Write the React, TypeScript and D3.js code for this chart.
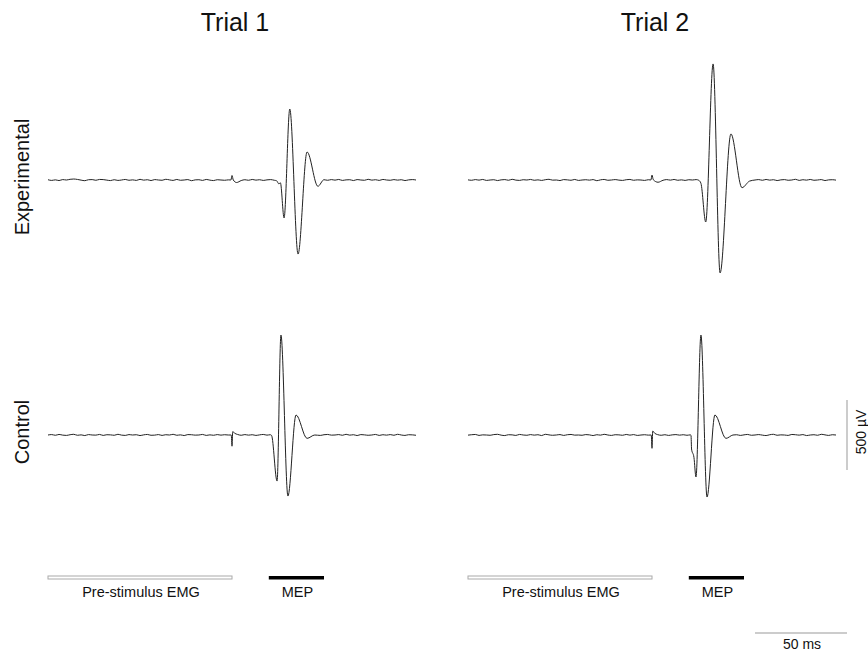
import React from "react";
import * as d3 from "d3";

// ---- Data ----
const trials = ["Trial 1", "Trial 2"];
const conditions = ["Experimental", "Control"];
const timeDomain: [number, number] = [-100, 100]; // ms, stimulus at 0
const preStimWindow: [number, number] = [-100, 0];
const mepWindow: [number, number] = [20, 50];
const scaleBarUV = 500;
const scaleBarMs = 50;
const bottomLabels = ["Pre-stimulus EMG", "MEP"];

// baseline noise sampled every 2 ms (µV)
const noiseStep = 2;
const exp1Pre = [2,-3,1,-4,3,0,5,7,4,-1,-5,2,3,-2,4,3,-1,-4,2,-3,0,4,-2,1,-3,5,-1,2,-4,3,0,-2,5,1,-3,4,-2,0,3,-5,1,2,-3,4,-1,-4,2,0,-2,1];
const exp2Pre = [1,-2,3,-1,4,-3,0,2,-4,1,3,-2,5,-1,-3,2,0,4,-2,1,-3,2,5,-1,0,-4,3,1,-2,4,-3,0,2,-1,3,-5,1,4,-2,0,3,-1,-3,2,4,-2,1,0,-3,2];
const ctrl1Pre = [0,3,-2,4,-1,-3,2,5,-2,1,-4,3,0,-1,4,-3,2,1,-2,5,-1,-3,3,0,2,-4,1,4,-2,-1,3,-3,2,0,5,-2,1,-4,3,2,-1,0,4,-3,1,-2,3,-1,2,0];
const ctrl2Pre = [-1,2,4,-3,1,0,-2,3,5,-1,-4,2,1,-3,4,0,-2,3,-1,2,-4,5,1,-2,0,3,-3,2,4,-1,0,-2,3,1,-4,2,-1,5,0,-3,2,1,-2,4,-1,3,-3,0,2,-1];

const exp1PostStart = 52;
const exp1Post = [-2,3,-1,4,-3,1,2,-4,3,0,-2,5,-1,2,-3,4,0,-2,3,-1,2,-4,1,3,0];
const exp2PostStart = 58;
const exp2Post = [3,-2,4,-1,2,-4,1,3,-2,0,5,-3,2,-1,4,-2,0,3,-4,1,2,-1];
const ctrl1PostStart = 48;
const ctrl1Post = [-3,2,4,-1,0,3,-2,5,-1,2,-4,3,1,-2,0,4,-3,2,-1,3,-2,5,0,-3,2,1,-2];
const ctrl2PostStart = 46;
const ctrl2Post = [2,-3,1,4,-2,0,3,-1,-4,2,5,-2,1,0,-3,4,2,-1,3,-4,0,2,-2,5,1,-3,2,0];

// stimulus artifact + MEP key points [ms, µV]
const exp1Mep: [number, number][] = [
  [-0.6, 0], [0, 32], [0.7, 0], [2.5, -18], [5, -4], [7, 2], [9, -2], [11, 4], [13, -1], [15, 2],
  [17, -3], [19, 1], [21, 3], [23, -2], [24.2, -5], [25.5, -28], [26.3, -20], [28.3, -271],
  [31.4, 507], [35.9, -529], [40.8, 200], [46.7, -45], [50, 2],
];
const exp2Mep: [number, number][] = [
  [-0.6, 0], [0, 35], [0.7, 2], [3.3, -16], [6, -2], [8, 3], [10, -1], [12, 4], [14, -2], [16, 1],
  [18, -3], [20, 2], [22, 0], [24, 3], [25.4, -2], [26.6, -24], [29.2, -300], [33.2, 829],
  [37, -664], [42.9, 329], [48.9, -55], [53, -8], [56, 0],
];
const ctrl1Mep: [number, number][] = [
  [-0.4, 0], [0, -80], [0.4, 24], [1.5, 12], [3, 4], [5, -2], [7, 3], [9, -1], [11, 2], [13, -3],
  [15, 1], [17, 4], [19, -1], [20.8, 2], [21.5, -3], [24.5, -329], [26.6, 714], [30.4, -436],
  [34.8, 143], [40.8, -24], [45, 0],
];
const ctrl2Mep: [number, number][] = [
  [-0.4, 0], [0, -95], [0.4, 28], [1.5, 12], [3, 3], [5, -2], [7, 2], [9, -3], [11, 1], [13, 3],
  [15, -1], [17, 2], [19, -2], [20.8, 1], [21.2, -2], [21.5, -100], [22.8, -160], [23.9, -300],
  [26.6, 714], [29.9, -443], [34.2, 143], [40.2, -24], [44, 0],
];

type Trace = { pre: number[]; mep: [number, number][]; postStart: number; post: number[] };
const traces: Trace[][] = [
  [
    { pre: exp1Pre, mep: exp1Mep, postStart: exp1PostStart, post: exp1Post },
    { pre: exp2Pre, mep: exp2Mep, postStart: exp2PostStart, post: exp2Post },
  ],
  [
    { pre: ctrl1Pre, mep: ctrl1Mep, postStart: ctrl1PostStart, post: ctrl1Post },
    { pre: ctrl2Pre, mep: ctrl2Mep, postStart: ctrl2PostStart, post: ctrl2Post },
  ],
];

function buildPoints(tr: Trace): [number, number][] {
  const pts: [number, number][] = [];
  tr.pre.forEach((v, i) => pts.push([timeDomain[0] + i * noiseStep, v]));
  tr.mep.forEach((p) => pts.push(p));
  tr.post.forEach((v, i) => pts.push([tr.postStart + i * noiseStep, v]));
  return pts;
}

// ---- Layout ----
const W = 868;
const H = 654;
const colRanges: [number, number][] = [
  [48, 416],
  [468, 836],
];
const rowBaselines = [180, 435];
const halfSpan = 70; // px for 500 µV
const FONT = "'Liberation Sans', Arial, Helvetica, sans-serif";

export default function App() {
  const xScales = colRanges.map((r) => d3.scaleLinear().domain(timeDomain).range(r));
  const yScales = rowBaselines.map((y0) =>
    d3.scaleLinear().domain([-scaleBarUV, scaleBarUV]).range([y0 + halfSpan, y0 - halfSpan])
  );

  const barY = 576;
  const labelY = 597;
  const vBarX = 847;
  const hBarY = 633;
  const hBarLen = xScales[1](scaleBarMs) - xScales[1](0);

  return (
    <div style={{ position: "absolute", left: 0, top: 0 }}>
      <svg width={W} height={H} style={{ display: "block", background: "#fff" }}>
        {trials.map((t, ci) => (
          <text
            key={t}
            x={(colRanges[ci][0] + colRanges[ci][1]) / 2 + 3}
            y={31}
            textAnchor="middle"
            fontFamily={FONT}
            fontSize={25}
            fill="#111"
          >
            {t}
          </text>
        ))}
        {conditions.map((c, ri) => (
          <text
            key={c}
            transform={`translate(29, ${rowBaselines[ri] - 3}) rotate(-90)`}
            textAnchor="middle"
            fontFamily={FONT}
            fontSize={20}
            fill="#111"
          >
            {c}
          </text>
        ))}
        {traces.map((row, ri) =>
          row.map((tr, ci) => {
            const line = d3
              .line<[number, number]>()
              .x((d) => xScales[ci](d[0]))
              .y((d) => yScales[ri](d[1]))
              .curve(d3.curveMonotoneX);
            return (
              <path
                key={`${ri}-${ci}`}
                d={line(buildPoints(tr)) || ""}
                fill="none"
                stroke="#222"
                strokeWidth={1}
                strokeLinejoin="round"
              />
            );
          })
        )}
        {colRanges.map((_, ci) => {
          const xs = xScales[ci];
          return (
            <g key={ci}>
              <rect
                x={xs(preStimWindow[0])}
                y={barY}
                width={xs(preStimWindow[1]) - xs(preStimWindow[0])}
                height={3}
                fill="#fff"
                stroke="#aaa"
                strokeWidth={1}
              />
              <rect
                x={xs(mepWindow[0])}
                y={barY}
                width={xs(mepWindow[1]) - xs(mepWindow[0])}
                height={3.5}
                fill="#000"
              />
              <text
                x={(xs(preStimWindow[0]) + xs(preStimWindow[1])) / 2 + 1}
                y={labelY}
                textAnchor="middle"
                fontFamily={FONT}
                fontSize={14.5}
                fill="#111"
              >
                {bottomLabels[0]}
              </text>
              <text
                x={(xs(mepWindow[0]) + xs(mepWindow[1])) / 2 + 1}
                y={labelY}
                textAnchor="middle"
                fontFamily={FONT}
                fontSize={14.5}
                fill="#111"
              >
                {bottomLabels[1]}
              </text>
            </g>
          );
        })}
        {/* scale bars */}
        <line
          x1={vBarX}
          x2={vBarX}
          y1={yScales[1](-scaleBarUV / 2)}
          y2={yScales[1](scaleBarUV / 2)}
          stroke="#999"
          strokeWidth={1}
        />
        <text
          transform={`translate(866, ${rowBaselines[1] - 3}) rotate(-90)`}
          textAnchor="middle"
          fontFamily={FONT}
          fontSize={14}
          fill="#111"
        >
          {`${scaleBarUV} µV`}
        </text>
        <line x1={vBarX - hBarLen} x2={vBarX} y1={hBarY} y2={hBarY} stroke="#999" strokeWidth={1} />
        <text
          x={vBarX - hBarLen / 2 + 1}
          y={649}
          textAnchor="middle"
          fontFamily={FONT}
          fontSize={14}
          fill="#111"
        >
          {`${scaleBarMs} ms`}
        </text>
      </svg>
    </div>
  );
}
